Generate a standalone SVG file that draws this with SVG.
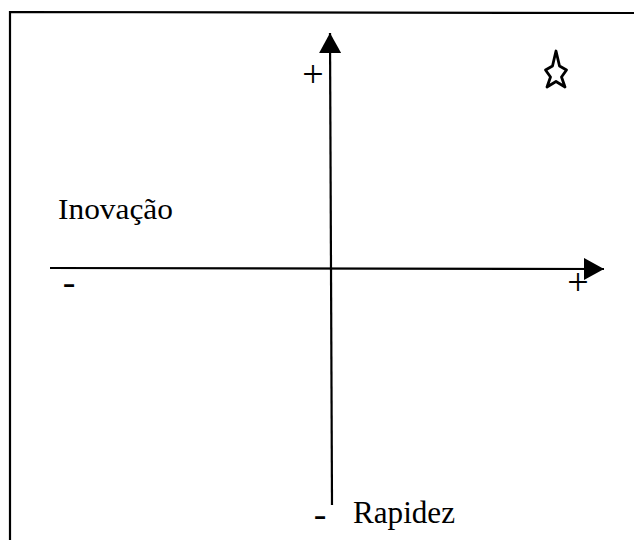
<svg xmlns="http://www.w3.org/2000/svg" width="634" height="540" viewBox="0 0 634 540">
<style>
.ln{stroke:#000;stroke-width:2.2;fill:none}
.sym{font-size:38px;text-anchor:middle}
</style>
<defs>
<marker id="ah" viewBox="0 0 20 22" refX="20" refY="11" markerWidth="20" markerHeight="22" markerUnits="userSpaceOnUse" orient="auto">
<path d="M0,0 L20,11 L0,22 Z" fill="#000"/>
</marker>
</defs>
<rect width="634" height="540" fill="#fff"/>
<g id="frame">
<path class="ln" d="M10,540 L10,12 L634,13"/>
</g>
<g id="connectors">
<path class="ln" d="M332,505 L330,33" marker-end="url(#ah)"/>
<path class="ln" d="M50,268 L604,269" marker-end="url(#ah)"/>
</g>
<g font-family="Liberation Serif, Times New Roman, serif" fill="#000">
<g id="label-inovacao"><text font-size="29" x="58" y="219" textLength="115" lengthAdjust="spacingAndGlyphs">Inovação</text></g>
<g id="label-rapidez"><text font-size="30.5" x="353" y="523" textLength="102" lengthAdjust="spacingAndGlyphs">Rapidez</text></g>
<g id="sign-top"><text class="sym" x="313" y="87">+</text></g>
<g id="sign-right"><text class="sym" x="578" y="295">+</text></g>
<g id="sign-left"><text class="sym" x="69" y="295">-</text></g>
<g id="sign-bottom"><text class="sym" x="320" y="527">-</text></g>
</g>
<g id="star">
<path d="M556,51 L559.5,66 L566.5,70 L561.5,77 L565,87 L556,81.5 L547,87 L550.5,77 L545.5,70 L552.5,66 Z" fill="none" stroke="#000" stroke-width="2.8" stroke-linejoin="round"/>
</g>
</svg>
